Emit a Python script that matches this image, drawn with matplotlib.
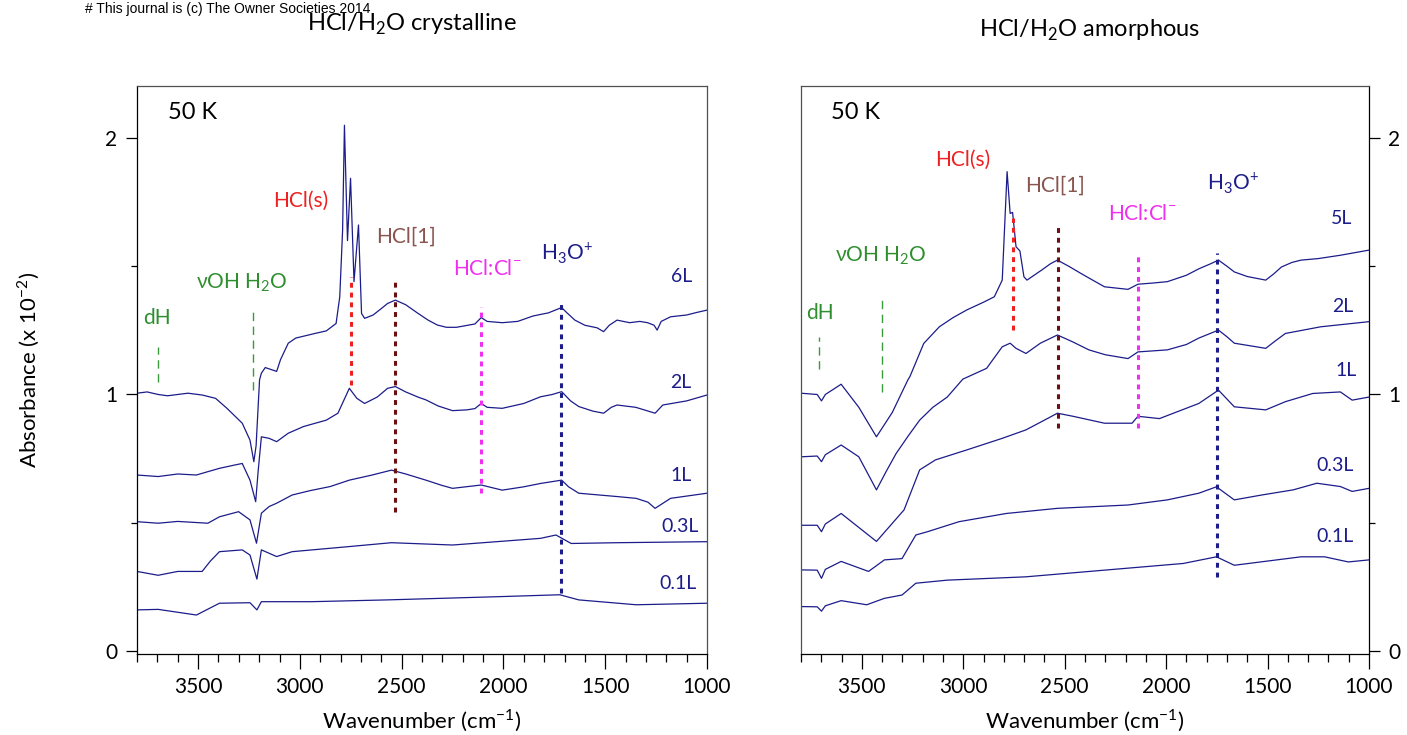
import matplotlib
matplotlib.use("Agg")
import matplotlib.pyplot as plt
from matplotlib.ticker import MultipleLocator

plt.rcParams['font.family'] = ['Lato', 'DejaVu Sans']
plt.rcParams['mathtext.fontset'] = 'custom'
plt.rcParams['mathtext.rm'] = 'Lato'

# crystalline film (left panel), wavenumber in cm-1, absorbance x 1e-2 (offset)
cr_wn_6L = [3800, 3750, 3696, 3650, 3550, 3480, 3414, 3358, 3283, 3245, 3226, 3215, 3198, 3189, 3170,
            3151, 3114, 3095, 3057, 3020, 2926, 2870, 2822, 2804, 2790, 2781, 2766, 2751, 2734, 2712,
            2697, 2682, 2640, 2600, 2569, 2531, 2480, 2419, 2370, 2325, 2280, 2231, 2140, 2109, 2080,
            2006, 1930, 1855, 1800, 1780, 1714, 1690, 1649, 1600, 1540, 1508, 1480, 1442, 1380, 1330,
            1292, 1260, 1245, 1225, 1179, 1100, 1050, 1000]
cr_ab_6L = [1.005, 1.01, 1.0, 0.995, 1.005, 0.998, 0.985, 0.946, 0.888, 0.822, 0.738, 0.80, 1.057, 1.083, 1.105,
            1.10, 1.09, 1.136, 1.20, 1.22, 1.238, 1.248, 1.277, 1.381, 1.641, 2.05, 1.60, 1.843, 1.44, 1.661,
            1.316, 1.297, 1.31, 1.335, 1.355, 1.368, 1.35, 1.316, 1.29, 1.271, 1.262, 1.262, 1.275, 1.30, 1.285,
            1.28, 1.285, 1.306, 1.315, 1.318, 1.339, 1.32, 1.29, 1.27, 1.26, 1.245, 1.27, 1.29, 1.28, 1.285,
            1.28, 1.27, 1.251, 1.285, 1.303, 1.31, 1.32, 1.329]

cr_wn_2L = [3800, 3696, 3600, 3508, 3452, 3395, 3320, 3283, 3245, 3217, 3205, 3189, 3151, 3114, 3057,
            2982, 2870, 2813, 2757, 2720, 2682, 2620, 2569, 2531, 2480, 2420, 2381, 2320, 2250, 2180,
            2140, 2109, 2080, 2006, 1900, 1818, 1760, 1714, 1670, 1630, 1560, 1508, 1470, 1442, 1350,
            1255, 1217, 1100, 1000]
cr_ab_2L = [0.686, 0.68, 0.69, 0.686, 0.699, 0.712, 0.725, 0.731, 0.666, 0.582, 0.70, 0.835, 0.829, 0.816, 0.849,
            0.875, 0.90, 0.927, 1.024, 0.985, 0.965, 0.99, 1.024, 1.031, 1.01, 0.99, 0.979, 0.955, 0.937, 0.94,
            0.945, 0.965, 0.95, 0.946, 0.965, 0.991, 1.0, 1.011, 0.975, 0.953, 0.935, 0.927, 0.95, 0.959, 0.95,
            0.927, 0.959, 0.975, 0.998]

cr_wn_1L = [3800, 3696, 3600, 3452, 3395, 3301, 3245, 3213, 3189, 3151, 3114, 3038, 2950, 2851, 2757,
            2650, 2550, 2480, 2381, 2300, 2250, 2109, 2006, 1900, 1818, 1714, 1680, 1630, 1442, 1348,
            1290, 1255, 1179, 1000]
cr_ab_1L = [0.504, 0.498, 0.505, 0.498, 0.523, 0.543, 0.511, 0.42, 0.537, 0.563, 0.576, 0.608, 0.625, 0.641, 0.666,
            0.685, 0.705, 0.69, 0.666, 0.645, 0.634, 0.647, 0.627, 0.64, 0.653, 0.666, 0.64, 0.615, 0.602, 0.595,
            0.58, 0.556, 0.595, 0.615]

cr_wn_03L = [3800, 3696, 3600, 3480, 3440, 3395, 3283, 3245, 3211, 3189, 3114, 3038, 2757, 2550, 2250,
             2100, 1818, 1742, 1667, 1442, 1000]
cr_ab_03L = [0.31, 0.295, 0.31, 0.31, 0.35, 0.387, 0.394, 0.374, 0.28, 0.394, 0.368, 0.387, 0.407, 0.422, 0.413,
             0.422, 0.439, 0.452, 0.419, 0.422, 0.426]

cr_wn_01L = [3800, 3696, 3508, 3395, 3245, 3211, 3189, 2944, 2569, 2006, 1723, 1630, 1348, 1000]
cr_ab_01L = [0.160, 0.162, 0.140, 0.186, 0.188, 0.16, 0.192, 0.192, 0.199, 0.212, 0.219, 0.199, 0.18, 0.186]

# amorphous film (right panel)
am_wn_5L = [3800, 3720, 3699, 3680, 3602, 3515, 3428, 3350, 3273, 3263, 3195, 3118, 3050, 2982, 2900,
            2847, 2808, 2784, 2769, 2757, 2740, 2721, 2701, 2686, 2614, 2570, 2536, 2480, 2420, 2360,
            2304, 2188, 2139, 2060, 1994, 1900, 1839, 1780, 1742, 1700, 1664, 1600, 1509, 1470, 1432,
            1380, 1335, 1250, 1141, 1000]
am_ab_5L = [1.005, 1.0, 0.975, 1.0, 1.04, 0.95, 0.835, 0.93, 1.057, 1.07, 1.199, 1.264, 1.30, 1.33, 1.36,
            1.381, 1.446, 1.869, 1.706, 1.71, 1.576, 1.56, 1.459, 1.446, 1.485, 1.51, 1.524, 1.50, 1.472, 1.445,
            1.42, 1.41, 1.43, 1.435, 1.44, 1.465, 1.49, 1.51, 1.524, 1.50, 1.478, 1.46, 1.446, 1.47, 1.497,
            1.515, 1.524, 1.53, 1.543, 1.563]

am_wn_2L = [3800, 3720, 3699, 3680, 3602, 3515, 3428, 3380, 3331, 3270, 3215, 3150, 3079, 3002, 2885,
            2808, 2769, 2740, 2691, 2620, 2536, 2460, 2381, 2300, 2188, 2139, 1994, 1900, 1839, 1742,
            1700, 1664, 1509, 1460, 1412, 1238, 1000]
am_ab_2L = [0.757, 0.76, 0.738, 0.765, 0.803, 0.757, 0.628, 0.70, 0.77, 0.84, 0.90, 0.95, 0.99, 1.06, 1.102,
            1.186, 1.2, 1.18, 1.16, 1.2, 1.232, 1.205, 1.174, 1.155, 1.14, 1.166, 1.174, 1.195, 1.22, 1.251,
            1.225, 1.2, 1.18, 1.21, 1.238, 1.264, 1.284]

am_wn_1L = [3800, 3720, 3699, 3680, 3602, 3428, 3292, 3215, 3137, 2982, 2808, 2691, 2600, 2536, 2459,
            2304, 2168, 2139, 2033, 1839, 1742, 1664, 1509, 1412, 1277, 1141, 1083, 1000]
am_ab_1L = [0.49, 0.49, 0.465, 0.495, 0.536, 0.427, 0.55, 0.706, 0.745, 0.784, 0.829, 0.862, 0.90, 0.927, 0.915,
            0.888, 0.888, 0.915, 0.906, 0.965, 1.017, 0.952, 0.94, 0.972, 1.004, 1.01, 0.978, 0.99]

am_wn_03L = [3800, 3720, 3699, 3680, 3602, 3467, 3389, 3302, 3234, 3176, 3021, 2788, 2536, 2188, 1994,
             1839, 1752, 1664, 1529, 1374, 1257, 1141, 1083, 1000]
am_ab_03L = [0.316, 0.315, 0.283, 0.318, 0.349, 0.31, 0.355, 0.36, 0.452, 0.465, 0.504, 0.536, 0.556, 0.569, 0.589,
             0.615, 0.64, 0.589, 0.608, 0.628, 0.654, 0.641, 0.622, 0.634]

am_wn_01L = [3800, 3720, 3699, 3680, 3602, 3476, 3389, 3302, 3234, 3079, 2691, 2304, 1916, 1752, 1664,
             1335, 1219, 1102, 1000]
am_ab_01L = [0.173, 0.172, 0.155, 0.176, 0.196, 0.18, 0.205, 0.218, 0.264, 0.276, 0.289, 0.315, 0.341, 0.367, 0.334,
             0.367, 0.367, 0.347, 0.355]

# band markers: position (cm-1), bottom, top
cr_marks = {"dH": (3696, 1.05, 1.185), "vOH": (3228, 1.018, 1.337), "HCls": (2751, 1.037, 1.458),
            "HCl1": (2531, 0.542, 1.454), "HClCl": (2109, 0.615, 1.34), "H3O": (1718, 0.226, 1.368)}
am_marks = {"dH": (3709, 1.10, 1.224), "vOH": (3403, 1.01, 1.38), "HCls": (2755, 1.25, 1.69),
            "HCl1": (2533, 0.87, 1.66), "HClCl": (2139, 0.87, 1.544), "H3O": (1748, 0.29, 1.55)}

NAVY = "#1c1c8a"
RED = "#ee2020"
DKRED = "#6a1010"
BROWN = "#8a5550"
MAGENTA = "#f030f0"
GREEN = "#2f8f2f"

mark_style = {"dH": ("#3a9a3a", 1.0, (0, (6, 4))), "vOH": ("#3a9a3a", 1.0, (0, (6, 4))),
              "HCls": (RED, 2.2, (0, (1.6, 1.6))), "HCl1": (DKRED, 2.2, (0, (1.6, 1.6))),
              "HClCl": (MAGENTA, 2.2, (0, (1.6, 1.6))), "H3O": (NAVY, 2.2, (0, (1.6, 1.6)))}

band_text = {"dH": ("dH", GREEN), "vOH": ("\u03bdOH H$_\\mathregular{2}$O", GREEN),
             "HCls": ("HCl(s)", RED), "HCl1": ("HCl[1]", BROWN),
             "HClCl": ("HCl:Cl$^\\mathregular{-}$", MAGENTA),
             "H3O": ("H$_\\mathregular{3}$O$^\\mathregular{+}$", NAVY)}

cr_text_pos = {"dH": (3770, 1.275), "vOH": (3510, 1.415), "HCls": (3132, 1.731), "HCl1": (2626, 1.591),
               "HClCl": (2248, 1.466), "H3O": (1816, 1.524)}
am_text_pos = {"dH": (3775, 1.294), "vOH": (3632, 1.518), "HCls": (3140, 1.891), "HCl1": (2696, 1.791),
               "HClCl": (2287, 1.68), "H3O": (1799, 1.797)}

cr_curves = [("6L", cr_wn_6L, cr_ab_6L, (1177, 1.439)), ("2L", cr_wn_2L, cr_ab_2L, (1182, 1.025)),
             ("1L", cr_wn_1L, cr_ab_1L, (1177, 0.663)), ("0.3L", cr_wn_03L, cr_ab_03L, (1226, 0.464)),
             ("0.1L", cr_wn_01L, cr_ab_01L, (1236, 0.242))]
am_curves = [("5L", am_wn_5L, am_ab_5L, (1188, 1.665)), ("2L", am_wn_2L, am_ab_2L, (1183, 1.322)),
             ("1L", am_wn_1L, am_ab_1L, (1163, 1.072)), ("0.3L", am_wn_03L, am_ab_03L, (1257, 0.703)),
             ("0.1L", am_wn_01L, am_ab_01L, (1257, 0.426))]

W, H = 1407, 735
fig = plt.figure(figsize=(W / 100, H / 100), dpi=100)
ax1 = fig.add_axes([137 / W, 1 - 654 / H, 570 / W, 568 / H])
ax2 = fig.add_axes([801 / W, 1 - 654 / H, 568 / W, 568 / H])


def draw_panel(ax, curves, marks, text_pos, right):
    for name, wn, ab, (tx, ty) in curves:
        ax.plot(wn, ab, color=NAVY, lw=0.9, zorder=2)
        ax.text(tx, ty, name, color=NAVY, fontsize=14, ha="left", va="baseline")
    for key, (x, y0, y1) in marks.items():
        c, lw, ls = mark_style[key]
        ax.plot([x, x], [y0, y1], color=c, lw=lw, ls=ls, zorder=3)
        txt, tc = band_text[key]
        ax.text(text_pos[key][0], text_pos[key][1], txt, color=tc, fontsize=15, ha="left", va="baseline")
    ax.text(3650, 2.075, "50 K", fontsize=17, ha="left", va="baseline")

    ax.set_xlim(3800, 1000)
    ax.set_ylim(-0.012, 2.203)
    ax.xaxis.set_major_locator(MultipleLocator(500))
    ax.xaxis.set_minor_locator(MultipleLocator(100))
    ax.yaxis.set_major_locator(MultipleLocator(1))
    ax.yaxis.set_minor_locator(MultipleLocator(0.5))
    ax.tick_params(axis="x", which="major", direction="out", length=10.5, width=0.9, labelsize=15, pad=6)
    ax.tick_params(axis="x", which="minor", direction="out", length=5.5, width=0.9)
    ax.tick_params(axis="y", which="major", direction="out", length=8, width=0.9, labelsize=15, pad=6)
    ax.tick_params(axis="y", which="minor", direction="out", length=4, width=0.9)
    for s in ax.spines.values():
        s.set_color("#505050")
        s.set_linewidth(0.9)
    ax.spines["bottom"].set_color("black")
    if right:
        ax.yaxis.tick_right()
        ax.spines["right"].set_color("black")
    else:
        ax.spines["left"].set_color("black")
    ax.set_xlabel("Wavenumber (cm$^\\mathregular{-1}$)", fontsize=16, labelpad=8)


draw_panel(ax1, cr_curves, cr_marks, cr_text_pos, False)
draw_panel(ax2, am_curves, am_marks, am_text_pos, True)
ax1.set_ylabel("Absorbance (x 10$^\\mathregular{-2}$)", fontsize=16)
ax1.yaxis.set_label_coords(-0.167, 0.5)

fig.text(412 / W, 1 - 31 / H, "HCl/H$_\\mathregular{2}$O crystalline", fontsize=17, ha="center", va="baseline")
fig.text(1090 / W, 1 - 37 / H, "HCl/H$_\\mathregular{2}$O amorphous", fontsize=17, ha="center", va="baseline")
fig.text(85 / W, 1 - 13 / H, "# This journal is (c) The Owner Societies 2014", fontsize=10,
         family="Liberation Sans", ha="left", va="baseline")

fig.savefig("out.png", dpi=100)
